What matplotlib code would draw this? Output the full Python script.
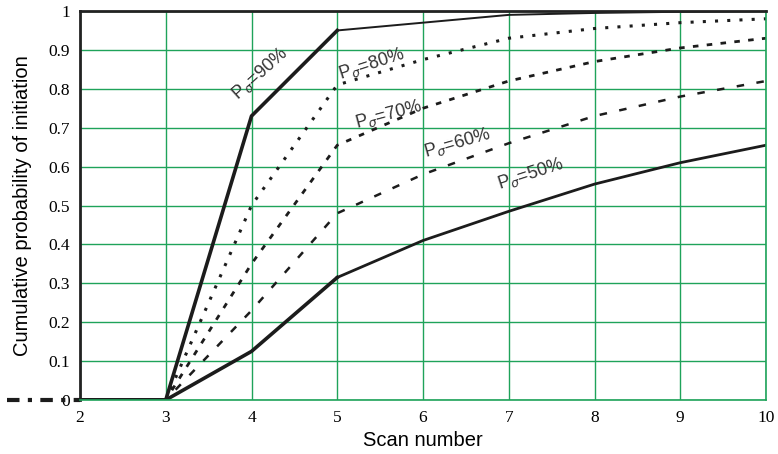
import matplotlib
matplotlib.use("Agg")
import matplotlib.pyplot as plt

# cumulative probability of initiation vs scan number, one curve per Pd
scans = [2, 3, 4, 5, 6, 7, 8, 9, 10]
p90 = [0, 0, 0.73, 0.95, 0.97, 0.99, 0.995, 0.998, 1.0]
p80 = [0, 0, 0.50, 0.81, 0.875, 0.93, 0.955, 0.97, 0.98]
p70 = [0, 0, 0.35, 0.655, 0.75, 0.82, 0.87, 0.905, 0.93]
p60 = [0, 0, 0.23, 0.48, 0.58, 0.66, 0.73, 0.78, 0.82]
p50 = [0, 0, 0.125, 0.315, 0.41, 0.485, 0.555, 0.61, 0.655]

labels = ["P$_{\\sigma}$=90%", "P$_{\\sigma}$=80%", "P$_{\\sigma}$=70%",
          "P$_{\\sigma}$=60%", "P$_{\\sigma}$=50%"]
label_xy = [(4.1, 0.84), (5.4, 0.865), (5.6, 0.735), (6.4, 0.66), (7.25, 0.58)]
label_rot = [42, 18, 15, 16, 18]

grid_c = "#1fa35a"

fig = plt.figure(figsize=(7.78, 4.54), dpi=100)
ax = fig.add_axes([80 / 778, 54 / 454, 686 / 778, 389 / 454])

ax.set_xlim(2, 10)
ax.set_ylim(0, 1)
ax.set_xticks(range(2, 11))
ax.set_yticks([i / 10 for i in range(11)])
ax.set_yticklabels(["0", "0.1", "0.2", "0.3", "0.4", "0.5", "0.6", "0.7",
                    "0.8", "0.9", "1"])
ax.grid(True, color=grid_c, lw=1.0)
ax.set_axisbelow(True)
ax.tick_params(length=0, labelsize=12.5, pad=7)
for lab in ax.get_xticklabels() + ax.get_yticklabels():
    lab.set_family("Liberation Serif")

for side in ("left", "top"):
    ax.spines[side].set_color("#222222")
    ax.spines[side].set_linewidth(2)
for side in ("right", "bottom"):
    ax.spines[side].set_color(grid_c)
    ax.spines[side].set_linewidth(1.2)

k = "#1c1c1c"
# 90%: heavy up to scan 5, thin afterwards
ax.plot(scans[:4], p90[:4], color=k, lw=2.6)
ax.plot(scans[3:], p90[3:], color=k, lw=1.4)
ax.plot(scans, p80, color=k, lw=2.2, ls=(0, (1, 3)))
ax.plot(scans, p70, color=k, lw=2.0, ls=(0, (2, 3)))
ax.plot(scans, p60, color=k, lw=1.8, ls=(0, (3, 5)))
ax.plot(scans[:4], p50[:4], color=k, lw=2.6)
ax.plot(scans[3:], p50[3:], color=k, lw=2.0)

# baseline stub running off the left edge
ax.plot([1.15, 2], [0, 0], color=k, lw=3, ls=(0, (3, 2, 1, 2)), clip_on=False)
ax.plot([2, 3], [0, 0], color=k, lw=3.5)

for txt, (x, y), r in zip(labels, label_xy, label_rot):
    ax.text(x, y, txt, rotation=r, ha="center", va="center", fontsize=13,
            family="Liberation Sans", color="#333333")

ax.set_xlabel("Scan number", fontsize=14.5, family="Liberation Sans", labelpad=4)
ax.set_ylabel("Cumulative probability of initiation", fontsize=14.5,
              family="Liberation Sans", labelpad=12)

fig.savefig("out.png", dpi=100)
